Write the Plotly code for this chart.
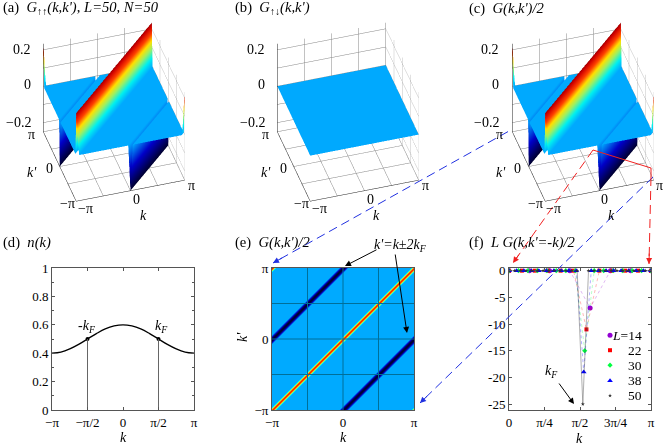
"""
   Descp: Pair correlation G(k,k') surfaces, n(k) and the -k cut, six panels.
"""

import plotly.graph_objects as go

W = 664
H = 444
PI = 3.14159265

# k grid shared by the surfaces and the map, index offsets of the diagonal features
N_STEPS = 142
ridge_offsets = [0, 142, -142]
trough_offsets = [71, -71]
# value against distance in cells from the centre of a band
surf_ridge_profile = [0.25, 0.18, 0.10, 0.03, 0.0]
surf_trough_profile = [-0.25, -0.17, -0.08, 0.0]
map_ridge_profile = [0.195, 0.17, 0.11, 0.05, 0.0]
map_trough_profile = [-0.25, -0.23, -0.18, -0.11, -0.04, 0.0]
flat_profile = [0.0]

# n(k), read every pi/8
nk_x = [i * PI / 8 for i in range(-8, 9)]
nk_y = [0.400, 0.408, 0.430, 0.462, 0.500, 0.538, 0.571, 0.592, 0.600,
        0.592, 0.571, 0.538, 0.500, 0.462, 0.430, 0.408, 0.400]

# L G(k,k'=-k)/2 per system size
sizes = [14, 22, 30, 38, 50]
cut_14 = [0, 0, 0, 0, -7, 0, 0, 0]
cut_22 = [0, 0, 0, 0, 0, 0, -11, 0, 0, 0, 0, 0]
cut_30 = [0, 0, 0, 0, 0, 0, 0, 0, -15, 0, 0, 0, 0, 0, 0, 0]
cut_38 = [0, 0, 0, 0, 0, 0, 0, 0, 0, 0, -19, 0, 0, 0, 0, 0, 0, 0, 0, 0]
cut_50 = [0, 0, 0, 0, 0, 0, 0, 0, 0, 0, 0, 0, 0, -25, 0, 0, 0, 0, 0, 0, 0, 0, 0, 0, 0, 0]
cuts = [cut_14, cut_22, cut_30, cut_38, cut_50]
cut_colors = ['#9400d3', '#ff0000', '#00ff40', '#0000ff', '#333333']
cut_symbols = ['circle', 'square', 'diamond', 'triangle-up', 'star']
cut_sizes = [5, 4, 4, 5, 3]
cut_dashes = ['dot', 'dot', 'dot', 'dot', 'solid']
cut_alpha = [0.45, 0.45, 0.45, 0.5, 0.65]
key_x = [2.235, 2.235, 2.235, 2.235, 2.235]
key_y = [-12.1, -14.9, -17.7, -20.6, -23.4]
key_labels = ['<i>L</i>=14', '22', '30', '38', '50']
key_rows = [335, 350, 365, 380, 395]

jet = [[0.0, '#000030'], [0.25, '#0000c8'], [0.5, '#00aaff'], [0.6, '#00f0f0'],
       [0.7, '#a0f060'], [0.78, '#ffe000'], [0.86, '#ff4000'], [0.94, '#d00000'], [1.0, '#700000']]

FONT = 'Liberation Serif'
AXIS_GRAY = '#555555'


def px(x, y):
    return x / W, 1 - y / H


def grid_z(ridge, trough):
    z = []
    for j in range(N_STEPS + 1):
        row = []
        for i in range(N_STEPS + 1):
            v = 0.0
            for c in ridge_offsets:
                if abs(j - i - c) < len(ridge):
                    v = ridge[abs(j - i - c)]
            for c in trough_offsets:
                if abs(j - i - c) < len(trough):
                    v = trough[abs(j - i - c)]
            row.append(v)
        z.append(row)
    return z


k_grid = [-PI + 2 * PI * i / N_STEPS for i in range(N_STEPS + 1)]
fig = go.Figure()


def scene_layout(cx, cy):
    half_w, half_h = 80, 105
    ax = {
        'tickvals': [-PI, -PI / 2, 0, PI / 2, PI],
        'range': [-PI, PI],
        'showticklabels': False,
        'title': {'text': ''},
        'showbackground': False,
        'gridcolor': '#858585',
        'gridwidth': 1,
        'showline': True,
        'linecolor': '#222222',
        'linewidth': 1,
        'zeroline': False,
        'showspikes': False,
    }
    zax = dict(ax)
    zax.update(tickvals=[-0.2, -0.1, 0, 0.1, 0.2], range=[-0.25, 0.233])
    return {
        'domain': {'x': [(cx - half_w) / W, (cx + half_w) / W],
                   'y': [1 - (cy + half_h) / H, 1 - (cy - half_h) / H]},
        'xaxis': ax,
        'yaxis': ax,
        'zaxis': zax,
        'aspectmode': 'manual',
        'aspectratio': {'x': 1.08, 'y': 1.08, 'z': 1.09},
        'camera': {
            'eye': {'x': -0.379, 'y': -1.25, 'z': 1.088},
            'up': {'x': 0, 'y': 0, 'z': 1},
            'projection': {'type': 'orthographic'},
        },
    }


# x runs backwards so the cell diagonals of the mesh lie along the ridge
for name, ridge, trough in (('scene', surf_ridge_profile, surf_trough_profile),
                            ('scene2', flat_profile, flat_profile),
                            ('scene3', surf_ridge_profile, surf_trough_profile)):
    fig.add_trace(go.Surface(
        x=k_grid[::-1], y=k_grid, z=[row[::-1] for row in grid_z(ridge, trough)], scene=name,
        colorscale=jet, cmin=-0.25, cmax=0.25, showscale=False,
        lighting={'ambient': 1, 'diffuse': 0, 'specular': 0, 'roughness': 1, 'fresnel': 0},
    ))

# (d)
fig.add_trace(go.Scatter(x=nk_x, y=nk_y, mode='lines', line={'color': 'black', 'width': 1.3, 'shape': 'spline'},
                         xaxis='x', yaxis='y', showlegend=False))
fig.add_trace(go.Scatter(x=[-PI / 2, PI / 2], y=[0.5, 0.5], mode='markers', marker={'color': 'black', 'size': 4},
                         xaxis='x', yaxis='y', showlegend=False))
for kf in (-PI / 2, PI / 2):
    fig.add_trace(go.Scatter(x=[kf, kf], y=[0, 0.5], mode='lines', line={'color': '#666666', 'width': 1},
                             xaxis='x', yaxis='y', showlegend=False))

# (e)
fig.add_trace(go.Heatmap(x=k_grid, y=k_grid, z=grid_z(map_ridge_profile, map_trough_profile),
                         colorscale=jet, zmin=-0.25, zmax=0.25,
                         showscale=False, zsmooth='best', xaxis='x2', yaxis='y2'))
for g in (-PI / 2, 0, PI / 2):
    fig.add_shape(type='line', xref='x2', yref='y2', x0=g, x1=g, y0=-PI, y1=PI, line={'color': '#006f9a', 'width': 1})
    fig.add_shape(type='line', xref='x2', yref='y2', y0=g, y1=g, x0=-PI, x1=PI, line={'color': '#006f9a', 'width': 1})

# (f)
for L, cut, color, symbol, size, dash, alpha, kx, ky in zip(sizes, cuts, cut_colors, cut_symbols, cut_sizes,
                                                            cut_dashes, cut_alpha, key_x, key_y):
    xs = [2 * PI * n / L for n in range(len(cut))]
    fig.add_trace(go.Scatter(x=xs, y=cut, mode='lines', line={'color': color, 'width': 0.6, 'dash': dash},
                             opacity=alpha, xaxis='x3', yaxis='y3', showlegend=False))
    fig.add_trace(go.Scatter(x=xs + [kx], y=cut + [ky], mode='markers',
                             marker={'color': color, 'size': size, 'symbol': symbol},
                             xaxis='x3', yaxis='y3', showlegend=False))


def cart_axis(x0, x1, anchor):
    return {
        'domain': [x0, x1], 'anchor': anchor, 'showgrid': False, 'zeroline': False, 'automargin': False,
        'showline': True, 'linecolor': AXIS_GRAY, 'linewidth': 1, 'mirror': 'ticks',
        'ticks': 'inside', 'ticklen': 3, 'tickcolor': AXIS_GRAY,
        'tickfont': {'family': FONT, 'size': 13, 'color': 'black'},
    }


def x_dom(a, b):
    return [a / W, b / W]


def y_dom(top, bottom):
    return [1 - bottom / H, 1 - top / H]


layout = dict(
    width=W, height=H, autosize=False, margin={'l': 0, 'r': 0, 't': 0, 'b': 0},
    paper_bgcolor='white', plot_bgcolor='white', showlegend=False,
    font={'family': FONT, 'size': 14, 'color': 'black'},
    scene=scene_layout(113.5, 111.5), scene2=scene_layout(347.5, 111.5), scene3=scene_layout(582.5, 111.5),
)
pi_ticks = [-PI, -PI / 2, 0, PI / 2, PI]
xa = cart_axis(*x_dom(52, 194), 'y')
xa.update(range=[-PI, PI], tickvals=pi_ticks, ticktext=['−π', '−π/2', '0', 'π/2', 'π'])
ya = cart_axis(*y_dom(268, 410), 'x')
ya.update(range=[0, 1], tickvals=[0, 0.2, 0.4, 0.6, 0.8, 1], ticktext=['0', '0.2', '0.4', '0.6', '0.8', '1'],
          minor={'tickvals': [0.1, 0.3, 0.5, 0.7, 0.9], 'ticks': 'inside', 'ticklen': 2, 'tickcolor': AXIS_GRAY})
xe = cart_axis(*x_dom(272, 414), 'y2')
xe.update(range=[-PI, PI], tickvals=[-PI, 0, PI], ticktext=['−π', '0', 'π'], ticks='')
ye = cart_axis(*y_dom(268, 410), 'x2')
ye.update(range=[-PI, PI], tickvals=[-PI, 0, PI], ticktext=['−π', '0', 'π'], ticks='')
xf = cart_axis(*x_dom(509, 651), 'y3')
xf.update(range=[0, PI], tickvals=[0, PI / 4, PI / 2, 3 * PI / 4, PI], ticktext=['0', 'π/4', 'π/2', '3π/4', 'π'])
yf = cart_axis(*y_dom(268, 410), 'x3')
yf.update(range=[-26.1, 0.5], tickvals=[0, -5, -10, -15, -20, -25], ticktext=['0', '-5', '-10', '-15', '-20', '-25'])
layout.update(xaxis=xa, yaxis=ya, xaxis2=xe, yaxis2=ye, xaxis3=xf, yaxis3=yf)
fig.update_layout(**layout)


def text(x, y, s, size=14, anchor='center', angle=0):
    ax, ay = px(x, y)
    fig.add_annotation(x=ax, y=ay, xref='paper', yref='paper', text=s, showarrow=False,
                       xanchor=anchor, yanchor='middle', textangle=angle,
                       font={'family': FONT, 'size': size, 'color': 'black'})


def arrow(x0, y0, x1, y1, color='black', width=1):
    ax1, ay1 = px(x1, y1)
    fig.add_annotation(x=ax1, y=ay1, ax=x0 - x1, ay=y0 - y1, xref='paper', yref='paper', axref='pixel', ayref='pixel',
                       text='', showarrow=True, arrowhead=2, arrowsize=1.2, arrowwidth=width, arrowcolor=color)


def dashed(x0, y0, x1, y1, color):
    ax0, ay0 = px(x0, y0)
    ax1, ay1 = px(x1, y1)
    fig.add_shape(type='line', xref='paper', yref='paper', x0=ax0, y0=ay0, x1=ax1, y1=ay1,
                  line={'color': color, 'width': 1, 'dash': '9px,5px'}, layer='above')
    # only the head of the arrow, the shaft is the dashed shape
    fx = x1 + (x0 - x1) * 12 / ((x0 - x1) ** 2 + (y0 - y1) ** 2) ** 0.5
    fy = y1 + (y0 - y1) * 12 / ((x0 - x1) ** 2 + (y0 - y1) ** 2) ** 0.5
    arrow(fx, fy, x1, y1, color)


# panel titles
TITLE = 14.6
text(1, 8, "(a)  <i>G</i><sub>↑↑</sub><i>(k,k')</i>, <i>L=50, N=50</i>", TITLE, anchor='left')
text(233, 8, "(b)  <i>G</i><sub>↑↓</sub><i>(k,k')</i>", TITLE, anchor='left')
text(467, 8, "(c)  <i>G(k,k')/2</i>", TITLE, anchor='left')
text(1, 243, "(d)  <i>n(k)</i>", TITLE, anchor='left')
text(233, 243, "(e)  <i>G(k,k')/2</i>", TITLE, anchor='left')
text(467, 243, "(f)  <i>L G(k,k'=-k)/2</i>", TITLE, anchor='left')

# 3D tick labels and axis names, the same in each panel but shifted
for dx in (0, 234, 468.5):
    text(33 + dx, 50, '0.2', anchor='right')
    text(33 + dx, 85, '0', anchor='right')
    text(33 + dx, 122, '−0.2', anchor='right')
    text(31 + dx, 134, 'π')
    text(49 + dx, 168, '0')
    text(67 + dx, 203, '−π')
    text(32 + dx, 172, "<i>k'</i>")
    text(85 + dx, 209, '−π')
    text(136 + dx, 199, '0')
    text(191 + dx, 186, 'π')
    text(143 + dx, 215, '<i>k</i>')

text(123, 437, '<i>k</i>')
text(343, 437, '<i>k</i>')
text(242, 337, "<i>k'</i>", angle=-90)
text(579, 438, '<i>k</i>')
text(87, 326, '-<i>k<sub>F</sub></i>')
text(161, 326, '<i>k<sub>F</sub></i>')

text(400, 245, "<i>k'=k±2k<sub>F</sub></i>")
arrow(378, 249, 345, 266)
arrow(395, 253, 407, 333)
text(551, 371, '<i>k<sub>F</sub></i>')
arrow(558, 382, 574, 404)

for label, row in zip(key_labels, key_rows):
    text(644, row, label, 13.5, anchor='right')

# connections between panels
dashed(508, 131.6, 273, 263, '#2030e0')
dashed(653, 177, 420, 403, '#2030e0')
dashed(593, 150, 513, 263, '#f02020')
dashed(651, 177, 649, 264, '#f02020')
for p0, p1 in (((593, 150), (651, 168)), ((651, 168), (651, 177))):
    a0, a1 = px(*p0), px(*p1)
    fig.add_shape(type='line', xref='paper', yref='paper', x0=a0[0], y0=a0[1], x1=a1[0], y1=a1[1],
                  line={'color': '#f02020', 'width': 1}, layer='above')

fig.write_html("out.html", config={'displayModeBar': False}, post_script="document.body.style.margin='0';")
